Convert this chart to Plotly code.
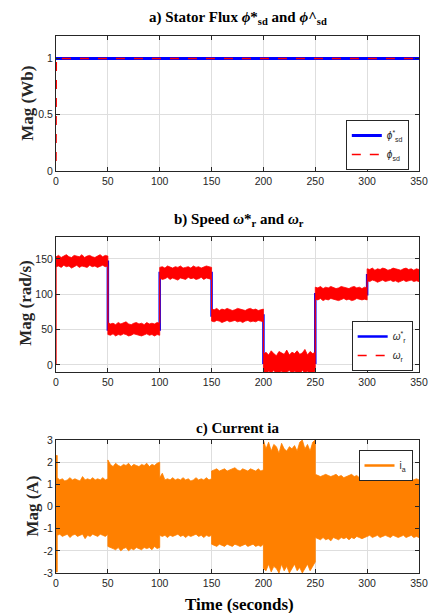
import numpy as np
import plotly.graph_objects as go

# ---------------- DATA ----------------
# Panel a: stator flux
flux_ref_t = [0, 350]
flux_ref = [1.0, 1.0]
flux_est_t = [0, 0.3, 350]
flux_est = [0.09, 1.0, 1.0]

# Panel b: speed reference (step profile)
speed_ref_t = [0, 50, 50, 100, 100, 150, 150, 200, 200, 250, 250, 300, 300, 350]
speed_ref = [146, 146, 50, 50, 130, 130, 70, 70, 3, 3, 100, 100, 127, 127]

# Panel b: measured speed noise envelope (upper / lower), 21 samples per 50 s segment
speed_seg_edges = [0, 50, 100, 150, 200, 250, 300, 350]
speed_upper = [
    [153, 155, 152, 154, 156, 153, 152, 155, 154, 153, 156, 152, 154, 155, 153, 152, 154, 156, 153, 155, 154],
    [60, 58, 59, 57, 60, 58, 59, 61, 58, 57, 59, 60, 58, 59, 57, 60, 58, 59, 58, 60, 59],
    [138, 139, 137, 140, 138, 137, 139, 138, 140, 137, 138, 139, 137, 140, 138, 139, 137, 138, 140, 139, 138],
    [79, 78, 80, 77, 79, 78, 80, 79, 77, 78, 80, 79, 78, 77, 79, 80, 78, 79, 77, 78, 79],
    [15, 18, 14, 20, 16, 13, 19, 17, 15, 21, 14, 18, 16, 20, 15, 17, 22, 14, 19, 16, 18],
    [110, 109, 111, 108, 110, 109, 111, 110, 108, 109, 111, 110, 109, 108, 110, 111, 109, 110, 108, 110, 109],
    [136, 135, 137, 134, 136, 135, 137, 136, 134, 135, 137, 136, 135, 134, 136, 137, 135, 136, 134, 136, 135],
]
speed_lower = [
    [139, 140, 138, 141, 139, 140, 137, 139, 141, 138, 140, 139, 138, 141, 139, 140, 138, 139, 141, 139, 140],
    [43, 42, 44, 41, 43, 42, 44, 43, 41, 42, 44, 43, 42, 41, 43, 44, 42, 43, 41, 43, 42],
    [123, 121, 122, 124, 121, 123, 122, 120, 123, 122, 121, 124, 122, 123, 121, 122, 124, 121, 123, 122, 121],
    [62, 61, 63, 62, 60, 62, 63, 61, 62, 63, 61, 62, 60, 62, 63, 61, 62, 61, 63, 62, 61],
    [-11, -12, -9, -11, -8, -12, -11, -9, -12, -10, -8, -12, -9, -11, -12, -8, -11, -9, -12, -10, -9],
    [93, 92, 94, 91, 93, 92, 94, 93, 92, 91, 93, 94, 92, 93, 91, 92, 94, 93, 92, 93, 92],
    [119, 118, 120, 119, 117, 119, 120, 118, 119, 120, 118, 119, 117, 119, 120, 118, 119, 120, 118, 119, 118],
]

# Panel c: phase current envelope
cur_start_t = [0, 1.2]
cur_start_upper = [2.3, 2.3]
cur_start_lower = [-2.95, -2.95]
cur_seg_edges = [1.2, 50, 100, 150, 200, 250, 300, 350]
cur_upper = [
    [1.3, 1.2, 1.25, 1.15, 1.2, 1.3, 1.2, 1.25, 1.2, 1.15, 1.35, 1.2, 1.25, 1.2, 1.3, 1.2, 1.25, 1.2, 1.3, 1.2, 1.25],
    [2.1, 1.9, 1.8, 1.95, 1.85, 1.8, 1.9, 1.85, 1.95, 1.8, 1.9, 1.85, 1.8, 1.9, 1.85, 1.95, 1.8, 1.9, 1.85, 1.95, 2.0],
    [1.3, 1.5, 1.2, 1.25, 1.2, 1.3, 1.2, 1.25, 1.2, 1.3, 1.2, 1.25, 1.15, 1.2, 1.3, 1.2, 1.25, 1.2, 1.3, 1.2, 1.25],
    [1.6, 1.65, 1.7, 1.6, 1.65, 1.7, 1.6, 1.65, 1.7, 1.75, 1.65, 1.6, 1.7, 1.65, 1.6, 1.7, 1.65, 1.6, 1.7, 1.6, 1.65],
    [3.0, 2.6, 2.9, 2.5, 2.8, 2.7, 2.4, 2.85, 2.6, 2.5, 2.7, 2.6, 2.75, 2.5, 2.9, 3.0, 2.6, 2.8, 2.5, 2.9, 3.0],
    [1.45, 1.4, 1.35, 1.4, 1.45, 1.4, 1.35, 1.4, 1.45, 1.35, 1.4, 1.3, 1.35, 1.4, 1.45, 1.35, 1.4, 1.3, 1.35, 1.4, 1.3],
    [1.3, 1.25, 1.3, 1.2, 1.35, 1.25, 1.3, 1.2, 1.25, 1.3, 1.2, 1.25, 1.3, 1.2, 1.25, 1.2, 1.3, 1.25, 1.2, 1.25, 1.2],
]
cur_lower = [
    [-1.3, -1.25, -1.35, -1.3, -1.25, -1.4, -1.3, -1.25, -1.35, -1.3, -1.25, -1.45, -1.3, -1.35, -1.25, -1.3, -1.35, -1.25, -1.3, -1.35, -1.25],
    [-1.8, -1.85, -1.9, -1.95, -1.85, -2.0, -1.9, -1.85, -2.0, -1.9, -1.95, -1.85, -1.9, -1.95, -1.85, -1.9, -1.85, -1.95, -1.8, -1.9, -1.85],
    [-1.3, -1.35, -1.3, -1.4, -1.3, -1.35, -1.3, -1.25, -1.35, -1.3, -1.4, -1.3, -1.35, -1.3, -1.25, -1.35, -1.3, -1.4, -1.3, -1.35, -1.3],
    [-1.7, -1.75, -1.8, -1.7, -1.75, -1.8, -1.7, -1.75, -1.8, -1.7, -1.75, -1.8, -1.75, -1.7, -1.8, -1.75, -1.7, -1.8, -1.75, -1.8, -1.7],
    [-2.8, -2.9, -2.6, -2.95, -2.7, -2.8, -3.0, -2.6, -2.9, -2.7, -3.0, -2.8, -2.6, -2.9, -2.75, -3.0, -2.8, -2.6, -2.9, -2.7, -2.5],
    [-1.4, -1.45, -1.5, -1.4, -1.5, -1.45, -1.55, -1.4, -1.45, -1.5, -1.4, -1.45, -1.4, -1.5, -1.4, -1.45, -1.35, -1.4, -1.45, -1.4, -1.35],
    [-1.35, -1.3, -1.4, -1.35, -1.3, -1.4, -1.35, -1.3, -1.35, -1.4, -1.3, -1.35, -1.4, -1.35, -1.3, -1.4, -1.35, -1.3, -1.4, -1.35, -1.4],
]

x_ticks = [0, 50, 100, 150, 200, 250, 300, 350]

# ---------------- LAYOUT HELPERS ----------------
W, H = 438, 613
ML, MR, MT, MB = 56, 10, 36, 40
PW, PH = W - ML - MR, H - MT - MB


def px(x):
    return (x - ML) / PW


def py(y):
    return (H - MB - y) / PH


def build_band(edges, upper, lower, pre_t=None, pre_u=None, pre_l=None):
    t_all, u_all, l_all = [], [], []
    if pre_t is not None:
        t_all += list(pre_t); u_all += list(pre_u); l_all += list(pre_l)
    for i in range(len(upper)):
        ts = np.linspace(edges[i], edges[i + 1], len(upper[i]))
        t_all += list(ts); u_all += list(upper[i]); l_all += list(lower[i])
    xs = t_all + t_all[::-1]
    ys = u_all + l_all[::-1]
    return xs, ys


fig = go.Figure()

BLUE, RED, ORANGE = "#0000FF", "#FF0000", "#FF8000"

# Panel a
fig.add_trace(go.Scatter(x=flux_ref_t, y=flux_ref, mode="lines", line=dict(color=BLUE, width=3),
                         name="<i>ϕ</i><sup>*</sup><sub>sd</sub>", xaxis="x", yaxis="y", legend="legend"))
fig.add_trace(go.Scatter(x=flux_est_t, y=flux_est, mode="lines", line=dict(color=RED, width=1.5, dash="dash"),
                         name="<i>ϕ</i><sub>sd</sub>", xaxis="x", yaxis="y", legend="legend"))

# Panel b
fig.add_trace(go.Scatter(x=speed_ref_t, y=speed_ref, mode="lines", line=dict(color=BLUE, width=2.5),
                         name="<i>ω</i><sup>*</sup><sub>r</sub>", xaxis="x2", yaxis="y2", legend="legend2"))
sx, sy = build_band(speed_seg_edges, speed_upper, speed_lower, [0], [0], [0])
fig.add_trace(go.Scatter(x=sx, y=sy, mode="lines", fill="toself", fillcolor=RED,
                         line=dict(color=RED, width=0.8), showlegend=False, xaxis="x2", yaxis="y2"))
fig.add_trace(go.Scatter(x=[None], y=[None], mode="lines", line=dict(color=RED, width=1.5, dash="dash"),
                         name="<i>ω</i><sub>r</sub>", xaxis="x2", yaxis="y2", legend="legend2"))

# Panel c
cx, cy = build_band(cur_seg_edges, cur_upper, cur_lower, cur_start_t, cur_start_upper, cur_start_lower)
fig.add_trace(go.Scatter(x=cx, y=cy, mode="lines", fill="toself", fillcolor=ORANGE,
                         line=dict(color=ORANGE, width=0.8), showlegend=False, xaxis="x3", yaxis="y3"))
fig.add_trace(go.Scatter(x=[None], y=[None], mode="lines", line=dict(color=ORANGE, width=2.5),
                         name="i<sub>a</sub>", xaxis="x3", yaxis="y3", legend="legend3"))

AX = "#262626"
tickfont = dict(family="Liberation Sans, Arial", size=10.5, color=AX)


def xaxis(anchor):
    return dict(range=[0, 350], tickvals=x_ticks, showgrid=True, gridcolor="#DEDEDE", gridwidth=1,
                showline=True, linecolor=AX, linewidth=1, mirror="ticks", ticks="inside", ticklen=4,
                tickcolor=AX, tickfont=tickfont, zeroline=False, anchor=anchor, domain=[0, 1])


def yaxis(anchor, dom, rng, tv, tt):
    return dict(range=rng, tickvals=tv, ticktext=tt, showgrid=True, gridcolor="#DEDEDE", gridwidth=1,
                showline=True, linecolor=AX, linewidth=1, mirror="ticks", ticks="inside", ticklen=4,
                tickcolor=AX, tickfont=tickfont, zeroline=False, anchor=anchor, domain=dom)


leg_common = dict(bgcolor="white", bordercolor=AX, borderwidth=1,
                  font=dict(family="Liberation Sans, Arial", size=10, color=AX),
                  xanchor="left", yanchor="top", xref="paper", yref="paper",
                  itemwidth=30, tracegroupgap=0)

fig.update_layout(
    width=W, height=H,
    margin=dict(l=ML, r=MR, t=MT, b=MB, pad=0),
    paper_bgcolor="white", plot_bgcolor="white",
    xaxis=xaxis("y"),
    yaxis=yaxis("x", [py(171), py(36)], [0, 1.2], [0, 0.5, 1], ["0", "0.5", "1"]),
    xaxis2=xaxis("y2"),
    yaxis2=yaxis("x2", [py(372), py(237)], [-10, 181], [0, 50, 100, 150], ["0", "50", "100", "150"]),
    xaxis3=xaxis("y3"),
    yaxis3=yaxis("x3", [py(573), py(440)], [-3, 3], [-3, -2, -1, 0, 1, 2, 3],
                 ["-3", "-2", "-1", "0", "1", "2", "3"]),
    legend=dict(x=px(353), y=py(120), **leg_common),
    legend2=dict(x=px(359), y=py(321), **leg_common),
    legend3=dict(x=px(366), y=py(450), **leg_common),
    showlegend=True,
)

TF = "Liberation Serif, Times New Roman, serif"
ann = [
    dict(text="<b>a) Stator Flux <i>ϕ</i>*<sub>sd</sub> and <i>ϕ</i>^<sub>sd</sub></b>", x=px(243), y=py(18), size=15),
    dict(text="<b>b) Speed <i>ω</i>*<sub>r</sub> and <i>ω</i><sub>r</sub></b>", x=px(244), y=py(220), size=15),
    dict(text="<b>c) Current ia</b>", x=px(243), y=py(428), size=15),
    dict(text="<b>Time (seconds)</b>", x=px(244), y=py(604), size=17),
]
for a in ann:
    fig.add_annotation(text=a["text"], x=a["x"], y=a["y"], xref="paper", yref="paper",
                       xanchor="center", yanchor="middle", showarrow=False,
                       font=dict(family=TF, size=a["size"], color="black"))

ylabels = [("<b>Mag (Wb)</b>", 26, 103), ("<b>Mag (rad/s)</b>", 24, 303), ("<b>Mag (A)</b>", 31, 506)]
for t, xx, yy in ylabels:
    fig.add_annotation(text=t, x=px(xx), y=py(yy), xref="paper", yref="paper", textangle=-90,
                       xanchor="center", yanchor="middle", showarrow=False,
                       font=dict(family=TF, size=17, color=AX))

fig.write_html("out.html")
